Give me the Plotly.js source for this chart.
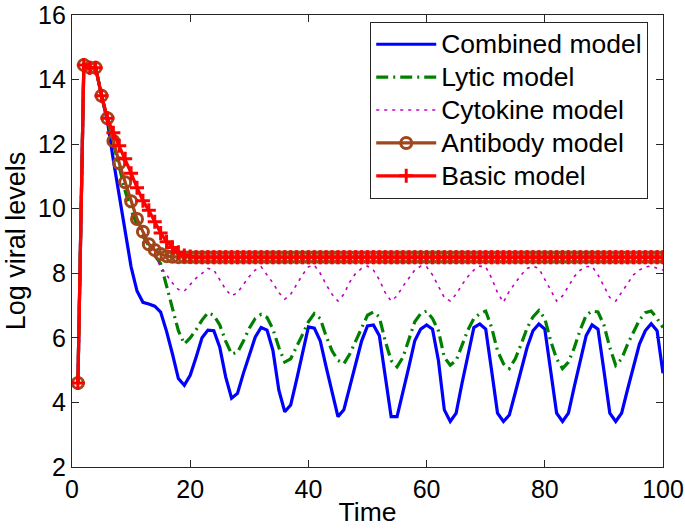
<!DOCTYPE html>
<html>
<head>
<meta charset="utf-8">
<script src="https://cdn.plot.ly/plotly-3.0.1.min.js"></script>
<style>
html,body{margin:0;padding:0;background:#fff;}
#chart{width:685px;height:529px;}
.legendtext{font-size:26.5px !important;}
</style>
</head>
<body>
<div id="chart"></div>
<script>
const time = [1,2,3,4,5,6,7,8,9,10,11,12,13,14,15,16,17,18,19,20,
21,22,23,24,25,26,27,28,29,30,31,32,33,34,35,36,37,38,39,40,
41,42,43,44,45,46,47,48,49,50,51,52,53,54,55,56,57,58,59,60,
61,62,63,64,65,66,67,68,69,70,71,72,73,74,75,76,77,78,79,80,
81,82,83,84,85,86,87,88,89,90,91,92,93,94,95,96,97,98,99,100];

const combined = [4.6,14.45,14.37,14.37,13.5,12.7,11.5,10.4,9.3,8.2,
7.45,7.1,7.05,6.98,6.8,6.2,5.5,4.74,4.53,4.84,
5.4,6.0,6.24,6.22,5.71,4.79,4.13,4.28,4.9,5.5,
6.02,6.32,6.24,5.61,4.38,3.71,3.92,4.7,5.5,6.34,
6.3,5.91,5.1,4.3,3.56,3.77,4.5,5.2,5.9,6.37,
6.4,6.07,4.79,3.56,3.56,4.28,5.1,5.91,6.27,6.4,
6.27,5.3,3.77,3.41,3.67,4.6,5.5,6.32,6.43,6.27,
4.99,3.67,3.41,3.61,4.3,5.0,5.7,6.22,6.43,6.27,
4.99,3.67,3.41,3.67,4.5,5.3,6.07,6.4,6.27,4.99,
3.67,3.41,3.67,4.4,5.1,5.8,6.22,6.44,6.22,4.9];

const lytic = [4.6,14.45,14.37,14.37,13.5,12.75,12.0,11.2,10.55,9.95,
9.5,9.15,8.85,8.55,8.3,7.6,6.85,6.22,5.81,6.0,
6.25,6.55,6.78,6.7,6.4,5.9,5.5,5.55,5.9,6.3,
6.6,6.73,6.63,6.27,5.7,5.25,5.35,5.7,6.1,6.5,
6.75,6.6,6.05,5.6,5.3,5.2,5.5,5.9,6.3,6.7,
6.8,6.65,5.9,5.3,5.1,5.4,5.95,6.5,6.75,6.83,
6.6,6.22,5.4,5.15,5.3,5.75,6.25,6.6,6.75,6.83,
6.32,5.6,5.2,5.05,5.35,5.8,6.3,6.65,6.85,6.6,
5.9,5.35,5.05,5.25,5.7,6.25,6.7,6.83,6.8,6.4,
5.7,5.15,5.35,5.8,6.2,6.55,6.78,6.83,6.6,6.32];

const cytokine = [4.6,14.45,14.37,14.37,13.5,12.8,12.1,11.4,10.8,10.2,
9.65,9.2,8.85,8.55,8.2,7.95,7.7,7.5,7.45,7.65,
7.85,8.0,8.15,8.1,7.8,7.5,7.3,7.4,7.65,7.9,
8.1,8.2,7.95,7.7,7.4,7.2,7.35,7.65,7.95,8.2,
8.25,8.0,7.65,7.35,7.14,7.35,7.73,8.0,8.15,8.22,
8.1,7.8,7.4,7.14,7.3,7.6,7.86,8.1,8.22,8.2,
7.95,7.6,7.25,7.14,7.35,7.65,7.9,8.1,8.22,8.2,
7.85,7.4,7.1,7.45,7.7,7.95,8.15,8.22,8.15,7.8,
7.45,7.14,7.3,7.6,7.9,8.1,8.2,8.22,7.95,7.6,
7.25,7.14,7.4,7.7,7.95,8.1,8.2,8.22,8.15,8.1];

const antibody = [4.6,14.45,14.37,14.37,13.5,12.8,12.1,11.41,10.82,10.23,
9.68,9.29,8.9,8.72,8.6,8.53,8.51,8.5,8.5,8.5,
8.5,8.5,8.5,8.5,8.5,8.5,8.5,8.5,8.5,8.5,
8.5,8.5,8.5,8.5,8.5,8.5,8.5,8.5,8.5,8.5,
8.5,8.5,8.5,8.5,8.5,8.5,8.5,8.5,8.5,8.5,
8.5,8.5,8.5,8.5,8.5,8.5,8.5,8.5,8.5,8.5,
8.5,8.5,8.5,8.5,8.5,8.5,8.5,8.5,8.5,8.5,
8.5,8.5,8.5,8.5,8.5,8.5,8.5,8.5,8.5,8.5,
8.5,8.5,8.5,8.5,8.5,8.5,8.5,8.5,8.5,8.5,
8.5,8.5,8.5,8.5,8.5,8.5,8.5,8.5,8.5,8.5];

const basic = [4.6,14.45,14.37,14.37,13.5,12.8,12.35,11.95,11.55,11.1,
10.65,10.25,9.95,9.6,9.25,8.98,8.8,8.65,8.55,8.52,
8.5,8.5,8.5,8.5,8.5,8.5,8.5,8.5,8.5,8.5,
8.5,8.5,8.5,8.5,8.5,8.5,8.5,8.5,8.5,8.5,
8.5,8.5,8.5,8.5,8.5,8.5,8.5,8.5,8.5,8.5,
8.5,8.5,8.5,8.5,8.5,8.5,8.5,8.5,8.5,8.5,
8.5,8.5,8.5,8.5,8.5,8.5,8.5,8.5,8.5,8.5,
8.5,8.5,8.5,8.5,8.5,8.5,8.5,8.5,8.5,8.5,
8.5,8.5,8.5,8.5,8.5,8.5,8.5,8.5,8.5,8.5,
8.5,8.5,8.5,8.5,8.5,8.5,8.5,8.5,8.5,8.5];

const seriesNames = ['Combined model','Lytic model','Cytokine model','Antibody model','Basic model'];
const xTickVals = [0, 20, 40, 60, 80, 100];
const yTickVals = [2, 4, 6, 8, 10, 12, 14, 16];

const FONT = 'Liberation Sans, Arial, Helvetica, sans-serif';

const traces = [
  {x: time, y: combined, name: seriesNames[0], mode: 'lines',
   line: {color: '#0000FF', width: 3.2}},
  {x: time, y: lytic, name: seriesNames[1], mode: 'lines',
   line: {color: '#008000', width: 3.2, dash: '12px,5px,2px,5px'}},
  {x: time, y: cytokine, name: seriesNames[2], mode: 'lines',
   line: {color: '#BF00BF', width: 1.6, dash: '3px,5px'}},
  {x: time, y: antibody, name: seriesNames[3], mode: 'lines+markers',
   line: {color: '#A0461A', width: 3.2},
   marker: {symbol: 'circle-open', size: 11, color: '#A0461A', line: {width: 3, color: '#A0461A'}}},
  {x: time, y: basic, name: seriesNames[4], mode: 'lines+markers',
   line: {color: '#FF0000', width: 3.2},
   marker: {symbol: 'cross-thin-open', size: 10, color: '#FF0000', line: {width: 3, color: '#FF0000'}}}
];

const axisCommon = {
  showgrid: false, zeroline: false, showline: true, linecolor: '#262626', linewidth: 1.2,
  mirror: 'ticks', ticks: 'inside', ticklen: 7, tickwidth: 1, tickcolor: '#262626',
  tickfont: {family: FONT, size: 25, color: '#000'}, tickmode: 'array',
  ticklabeloverflow: 'allow'
};

const layout = {
  width: 685, height: 529,
  margin: {l: 72, r: 22, t: 15, b: 62},
  paper_bgcolor: '#fff', plot_bgcolor: '#fff',
  showlegend: true,
  font: {family: FONT, color: '#000'},
  xaxis: Object.assign({}, axisCommon, {
    range: [0, 100], tickvals: xTickVals, ticktext: xTickVals.map(String),
    title: {text: 'Time', font: {family: FONT, size: 26.5, color: '#000'}, standoff: 0}
  }),
  yaxis: Object.assign({}, axisCommon, {
    range: [2, 16], tickvals: yTickVals, ticktext: yTickVals.map(String),
    title: {text: 'Log viral levels', font: {family: FONT, size: 27, color: '#000'}, standoff: 4}
  }),
  legend: {
    x: 0.975, y: 0.985, xanchor: 'right', yanchor: 'top',
    bgcolor: '#fff', bordercolor: '#262626', borderwidth: 1,
    font: {family: FONT, size: 23, color: '#000'},
    itemwidth: 60, tracegroupgap: 0
  }
};

Plotly.newPlot('chart', traces, layout, {staticPlot: true, displayModeBar: false});
</script>
</body>
</html>
